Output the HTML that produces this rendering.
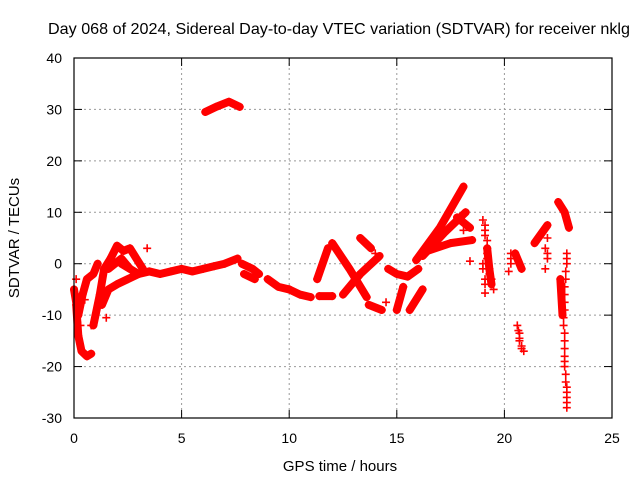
<!DOCTYPE html>
<html><head><meta charset="utf-8"><style>
body{margin:0;background:#fff}
svg{display:block;font-family:"Liberation Sans",sans-serif}
</style></head><body>
<svg id="chart" width="640" height="480" xmlns="http://www.w3.org/2000/svg">
<text x="339" y="34" text-anchor="middle" font-size="16" textLength="582" lengthAdjust="spacingAndGlyphs">Day 068 of 2024, Sidereal Day-to-day VTEC variation (SDTVAR) for receiver nklg</text>
<text x="340" y="471" text-anchor="middle" font-size="15">GPS time / hours</text>
<text transform="translate(19,238) rotate(-90)" text-anchor="middle" font-size="15">SDTVAR / TECUs</text>
<g id="grid"></g>
<g id="marks"></g>
<rect x="74" y="58" width="538" height="360" fill="none" stroke="#000" stroke-width="1.2"/>
</svg>
<script>
const xTicks=[0,5,10,15,20,25];
const yTicks=[-30,-20,-10,0,10,20,30,40];
// thick tracks: [hour, TECU]
const bandTracks=[
[[6.1,29.5],[6.6,30.5],[7.2,31.5],[7.7,30.5]],
[[2.2,0],[3,-2],[3.5,-1.5],[4,-2],[4.5,-1.5],[5,-1],[5.5,-1.5],[6,-1],[6.5,-0.5],[7,0],[7.6,1]],
[[1.3,-8],[1.6,-5],[2,-4],[2.5,-3],[3,-2]],
[[1.7,1],[2,3.5],[2.3,2.5],[2.6,3],[2.9,1],[3.2,-1]],
[[1.6,-1],[2.2,1],[2.6,-1]],
[[0,-5],[0.2,-10],[0.4,-6],[0.6,-3],[0.9,-2],[1.1,0]],
[[0.1,-8],[0.2,-14],[0.35,-17],[0.6,-18],[0.8,-17.5]],
[[0.9,-12],[1.2,-6],[1.4,-1],[1.7,1]],
[[7.8,0],[8.3,-1],[8.6,-2]],
[[7.9,-2],[8.4,-3]],
[[9,-3],[9.5,-4.5],[10,-5]],
[[10,-5],[10.5,-6],[11,-6.5]],
[[11.4,-6.3],[12,-6.3]],
[[11.3,-3],[11.8,3]],
[[12.0,4],[12.8,-1],[13.6,-6.5]],
[[12.5,-6],[13.3,-2],[14.2,1.5]],
[[13.3,5],[13.8,3]],
[[13.7,-8],[14.3,-9]],
[[14.6,-1],[15,-2],[15.5,-2.5],[16,-1]],
[[15,-9],[15.3,-4.5]],
[[15.6,-9],[16.2,-5]],
[[15.9,0.7],[17,7],[18.1,15]],
[[16.2,1.5],[17.2,6],[18.2,10]],
[[16.5,2.6],[17.5,4],[18.5,4.6]],
[[17.8,9],[18.4,7]],
[[21.4,4],[22.0,7.5]],
[[20.5,2],[20.8,-1]],
[[22.5,12],[22.8,10],[23,7]],
[[22.6,-3],[22.7,-10]],
[[19.2,3],[19.3,-1],[19.4,-4]]
];
// sparse marker tracks
const markerTracks=[
[[19.0,8.5],[19.1,7.5],[19.1,6.5],[19.1,5.5],[19.2,4.5],[19.2,3],[19.2,2],[19.2,1],[19.2,0],[19.3,-1],[19.3,-2],[19.4,-3],[19.4,-4],[19.5,-5],[19.1,-5.7],[19.1,-4],[19.0,0],[19.0,-1],[19.1,-3]],
[[20.3,2],[20.3,1],[20.3,0],[20.2,-1.5]],
[[20.6,-12],[20.65,-13],[20.7,-13.5],[20.7,-14.5],[20.7,-15],[20.8,-16],[20.8,-16.5],[20.9,-17]],
[[21.9,3],[22.0,2],[22.0,1],[21.9,-1],[22.0,5]],
[[22.9,2],[22.9,1],[22.9,0],[22.85,-1.5],[22.85,-3],[22.8,-4.5],[22.8,-6],[22.8,-7.5],[22.8,-9],[22.75,-10.5],[22.75,-12],[22.8,-13.5],[22.8,-15],[22.8,-16.5],[22.8,-18],[22.8,-19],[22.8,-20],[22.85,-21.5],[22.85,-23],[22.9,-24],[22.9,-25],[22.9,-26],[22.9,-27],[22.9,-28]],
[[0.1,-3],[0.3,-12],[0.5,-7],[0.8,-12],[1.0,-10],[1.5,-10.5],[2.2,2.5],[3.4,3],[14,2],[14.5,-7.5],[18.4,0.5],[18.1,6.5]]
];
const X=t=>74+t*(538/25), Y=v=>58+(40-v)*(360/70);
const ns="http://www.w3.org/2000/svg";
const g=document.getElementById('grid'), m=document.getElementById('marks'), svg=document.getElementById('chart');
function mk(tag,at,par){const e=document.createElementNS(ns,tag);for(const k in at)e.setAttribute(k,at[k]);par.appendChild(e);return e;}
xTicks.forEach(t=>{
 if(t>0&&t<25){const l=mk('line',{x1:X(t),x2:X(t),y1:58,y2:418,stroke:'#999','stroke-dasharray':'2,3'},g);
 
 }
 mk('line',{x1:X(t),x2:X(t),y1:418,y2:410,stroke:'#000'},g);
 mk('line',{x1:X(t),x2:X(t),y1:58,y2:66,stroke:'#000'},g);
 const tx=mk('text',{x:X(t),y:443,'text-anchor':'middle','font-size':14},svg);tx.textContent=t;
 
 
});
yTicks.forEach(v=>{
 if(v>-30&&v<40){const l=mk('line',{x1:74,x2:612,y1:Y(v),y2:Y(v),stroke:'#999','stroke-dasharray':'2,3'},g);
 
 }
 mk('line',{x1:74,x2:82,y1:Y(v),y2:Y(v),stroke:'#000'},g);
 mk('line',{x1:612,x2:604,y1:Y(v),y2:Y(v),stroke:'#000'},g);
 const tx=mk('text',{x:62,y:Y(v)+5,'text-anchor':'end','font-size':14},svg);tx.textContent=v;
 
 
});
function plus(t,v){const x=X(t),y=Y(v);
 const p=mk('path',{d:`M${x-4} ${y}H${x+4}M${x} ${y-4}V${y+4}`,stroke:'#f00','stroke-width':1.6,fill:'none'},m);
 
 }
bandTracks.forEach(tr=>{
 const pl=mk('polyline',{points:tr.map(p=>X(p[0])+','+Y(p[1])).join(' '),stroke:'#f00','stroke-width':8,fill:'none','stroke-linejoin':'round','stroke-linecap':'round'},m);
 
 
 tr.forEach(p=>plus(p[0],p[1]));
});
markerTracks.forEach(tr=>tr.forEach(p=>plus(p[0],p[1])));
</script>
</body></html>
